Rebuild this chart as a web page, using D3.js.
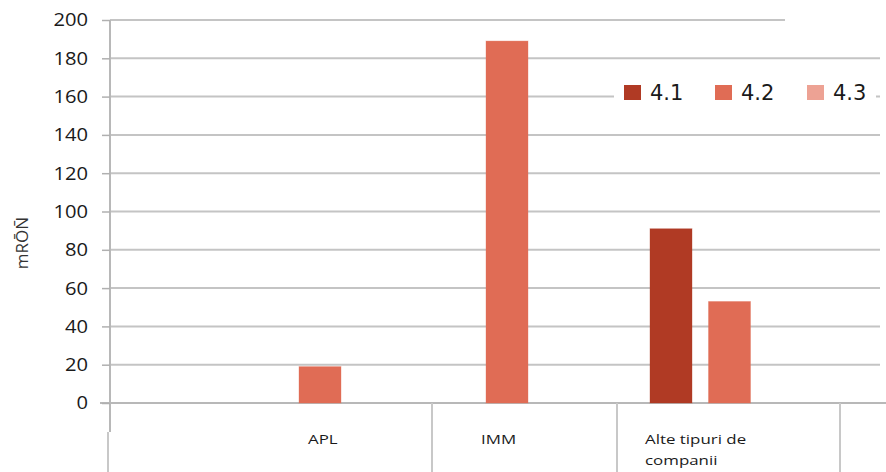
<!DOCTYPE html>
<html>
<head>
<meta charset="utf-8">
<script src="https://cdn.jsdelivr.net/npm/d3@7"></script>
<style>
  html, body { margin: 0; padding: 0; background: #fff; }
  svg { display: block; }
</style>
</head>
<body>
<div id="chart"></div>
<script>
// Categories, series and values (mRON)
const categories = ["APL", "IMM", "Alte tipuri de companii"];
const categoryLines = [["APL"], ["IMM"], ["Alte tipuri de", "companii"]];
const seriesNames = ["4.1", "4.2", "4.3"];
const values41 = [0, 0, 91];
const values42 = [19, 189, 53];
const values43 = [0, 0, 0];
const yTicks = [0, 20, 40, 60, 80, 100, 120, 140, 160, 180, 200];
const yTitle = "mRŌN\u0304";

const seriesValues = [values41, values42, values43];
const colors = ["#b03a24", "#e06c55", "#eda294"];

const W = 886, H = 472;
const svg = d3.select("#chart").append("svg")
  .attr("width", W).attr("height", H);

const axisX = 110, baseY = 403, tableBottom = H;

const y = d3.scaleLinear().domain([0, 200]).range([baseY, 20]);

// Centre of each category group (position of the middle series)
const groupX = d3.scaleOrdinal().domain(categories).range([320, 507, 729.5]);
// Offsets of series inside a group
const seriesX = d3.scaleBand().domain(seriesNames)
  .range([-87.75, 87.75]).paddingInner(0.28).paddingOuter(0.14);
const barW = 42;
const seriesOffset = s => seriesX(s) + seriesX.bandwidth() / 2 - (seriesX("4.2") + seriesX.bandwidth() / 2);

// Left anchor of the category labels in the table row
const labelX = d3.scaleOrdinal().domain(categories).range([308, 481, 645]);

const gridColor = "#c4c4c4";

// Horizontal gridlines
svg.append("g").selectAll("line")
  .data(yTicks.filter(t => t > 0))
  .join("line")
  .attr("x1", axisX).attr("x2", t => t === 200 ? 785 : 880)
  .attr("y1", t => y(t)).attr("y2", t => y(t))
  .attr("stroke", gridColor).attr("stroke-width", 2);

// Baseline that also tops the category table
svg.append("line")
  .attr("x1", 100).attr("x2", W)
  .attr("y1", baseY).attr("y2", baseY)
  .attr("stroke", "#b8b8b8").attr("stroke-width", 2);

// Bars
const barData = [];
categories.forEach((c, i) => {
  seriesNames.forEach((s, j) => {
    const v = seriesValues[j][i];
    if (v > 0) barData.push({ c, s, v, j });
  });
});
svg.append("g").selectAll("rect")
  .data(barData)
  .join("rect")
  .attr("x", d => groupX(d.c) + seriesOffset(d.s) - barW / 2)
  .attr("width", barW)
  .attr("y", d => y(d.v))
  .attr("height", d => y(0) - y(d.v))
  .attr("fill", d => colors[d.j])
  .attr("stroke", d => colors[d.j]).attr("stroke-opacity", 0.35).attr("stroke-width", 1);

// Y axis line and ticks
const yAxis = d3.axisLeft(y).tickValues(yTicks).tickSize(8).tickFormat("");
const gy = svg.append("g").attr("transform", `translate(${axisX},0)`).call(yAxis);
gy.select(".domain").attr("stroke", "#b8b8b8").attr("stroke-width", 2)
  .attr("d", `M0,${y(200)}V432`);
gy.selectAll(".tick line").attr("stroke", "#b0b0b0").attr("stroke-width", 1.5);

// Tick labels
svg.append("g").selectAll("text")
  .data(yTicks)
  .join("text")
  .attr("transform", t => `translate(88,${y(t)}) scale(1.12,1)`)
  .attr("text-anchor", "end")
  .attr("dy", "0.36em")
  .attr("font-family", "'Open Sans', sans-serif")
  .attr("font-size", 18)
  .attr("fill", "#1a1a1a")
  .text(t => t);

// Y axis title
svg.append("text")
  .attr("transform", "translate(28,243) rotate(-90)")
  .attr("text-anchor", "middle")
  .attr("font-family", "'Open Sans', sans-serif")
  .attr("font-size", 17)
  .attr("fill", "#333")
  .text(yTitle);

// Category table vertical rules
const tableRules = [108, 432, 617, 840];
svg.append("g").selectAll("line")
  .data(tableRules)
  .join("line")
  .attr("x1", d => d).attr("x2", d => d)
  .attr("y1", d => d === 108 ? 432 : baseY).attr("y2", tableBottom)
  .attr("stroke", "#c8c8c8").attr("stroke-width", 2);

// Category labels
const catG = svg.append("g").selectAll("g")
  .data(categories)
  .join("g")
  .attr("transform", c => `translate(${labelX(c)},444) scale(1.3,1)`);
catG.each(function(c, i) {
  d3.select(this).selectAll("text")
    .data(categoryLines[i])
    .join("text")
    .attr("y", (d, k) => k * 21)
    .attr("font-family", "'Open Sans', sans-serif")
    .attr("font-size", 13)
    .attr("fill", "#1a1a1a")
    .text(d => d);
});

// Legend
const legend = svg.append("g");
legend.append("rect")
  .attr("x", 614).attr("y", 78).attr("width", 262).attr("height", 28)
  .attr("fill", "#fff");
const legendX = d3.scaleOrdinal().domain(seriesNames).range([624, 715, 807]);
const li = legend.selectAll("g.item")
  .data(seriesNames)
  .join("g").attr("class", "item")
  .attr("transform", s => `translate(${legendX(s)},85)`);
li.append("rect")
  .attr("width", 17).attr("height", 15)
  .attr("fill", (s, i) => colors[i]);
li.append("text")
  .attr("x", 26).attr("y", 15)
  .attr("font-family", "'DejaVu Sans', sans-serif")
  .attr("font-size", 21)
  .attr("fill", "#1a1a1a")
  .text(s => s);
</script>
</body>
</html>
